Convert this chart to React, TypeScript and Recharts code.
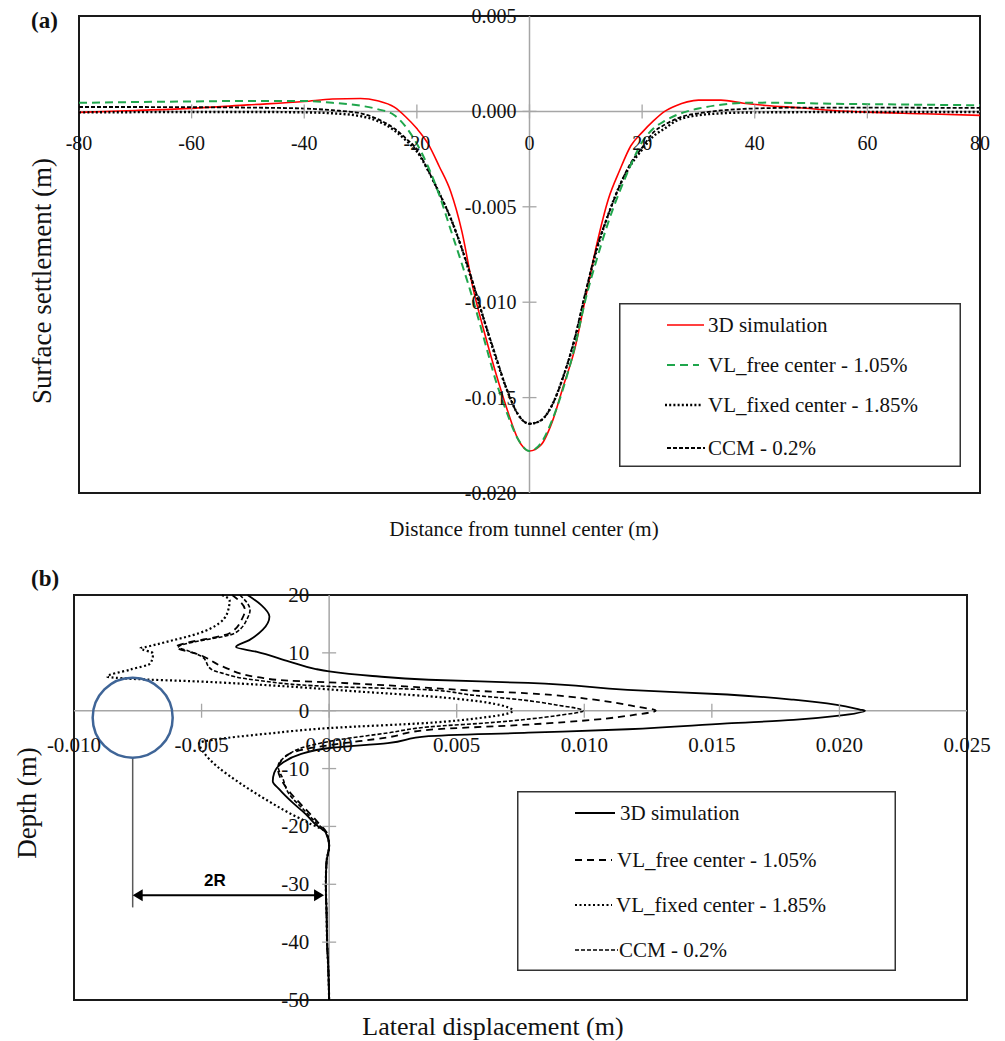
import React from 'react';
import {
  LineChart, Line, XAxis, YAxis, ReferenceLine, ReferenceArea, ReferenceDot,
  Legend, ScatterChart, Scatter,
} from 'recharts';

const SERIF = '"Liberation Serif", "Times New Roman", serif';
const SANS = '"Liberation Sans", Arial, sans-serif';

// ---------------- Panel (a): surface settlement ----------------
const distance = [-80, -70, -60, -50, -40, -35, -30, -27, -24, -22, -20, -18, -16, -14, -12, -10, -8, -6, -4, -2, 0, 2, 4, 6, 8, 10, 12, 14, 16, 18, 20, 22, 24, 26, 28, 30, 34, 38, 42, 48, 54, 60, 70, 80];
const settle3D = [-0.00005, 0.00005, 0.00016, 0.00034, 0.00052, 0.00065, 0.00068, 0.00056, 0.00022, -0.00028, -0.0009, -0.0017, -0.0029, -0.0042, -0.0063, -0.0093, -0.0116, -0.0137, -0.0156, -0.0172, -0.0178, -0.0175, -0.0163, -0.0144, -0.0125, -0.0097, -0.0069, -0.0046, -0.0031, -0.0018, -0.0011, -0.0005, 0.0, 0.0003, 0.0005, 0.00059, 0.00059, 0.00043, 0.00031, 0.00019, 0.00005, -0.00004, -0.00012, -0.00021];
const settleFree = [0.00045, 0.00049, 0.00052, 0.00055, 0.00055, 0.00045, 0.0003, 0.00012, -0.0002, -0.0008, -0.0017, -0.0029, -0.0044, -0.0062, -0.008, -0.0099, -0.012, -0.0141, -0.0158, -0.0172, -0.0178, -0.0174, -0.0162, -0.0145, -0.0124, -0.0098, -0.0077, -0.0058, -0.0042, -0.0028, -0.0016, -0.0009, -0.0005, -0.0002, 0.0, 0.00015, 0.00035, 0.00045, 0.00046, 0.00044, 0.0004, 0.00038, 0.00035, 0.00032];
const settleFixed = [-0.00005, -0.00004, -0.00003, -0.00003, -0.00005, -0.0001, -0.00025, -0.0005, -0.001, -0.0015, -0.0021, -0.0031, -0.0043, -0.0056, -0.0072, -0.0091, -0.011, -0.0129, -0.0146, -0.0159, -0.01637, -0.0162, -0.0154, -0.0139, -0.012, -0.0095, -0.0072, -0.0054, -0.0039, -0.0028, -0.002, -0.0013, -0.0009, -0.0005, -0.0003, -0.0002, -0.0001, -0.00006, -0.00005, -0.00004, -0.00003, -0.00003, -0.00003, -0.00003];
const settleCCM = [0.00023, 0.00023, 0.00022, 0.0002, 0.00015, 0.00006, -0.0001, -0.0004, -0.0009, -0.0014, -0.002, -0.0031, -0.0043, -0.0056, -0.0072, -0.009, -0.011, -0.0128, -0.0146, -0.0159, -0.01637, -0.0162, -0.0154, -0.0139, -0.0119, -0.0094, -0.0071, -0.0054, -0.0039, -0.0027, -0.0019, -0.0011, -0.0007, -0.0004, -0.0002, -0.0001, 0.00005, 0.00013, 0.00017, 0.0002, 0.0002, 0.0002, 0.00019, 0.00018];
const distanceTicks = [-80, -60, -40, -20, 0, 20, 40, 60, 80];
const settlementTicks = [-0.02, -0.015, -0.01, -0.005, 0, 0.005];

// ---------------- Panel (b): lateral displacement ----------------
const simDepth = [20, 18.3, 16.3, 14, 12.2, 11, 10.2, 8.5, 7.2, 6.8, 6, 5.35, 4.8, 3.6, 2.8, 1.9, 1, 0.2, 0, -0.9, -1.6, -2.2, -3.2, -3.8, -4.4, -5.6, -6.4, -7.6, -9, -10.7, -12.2, -13.6, -15.9, -17.9, -19.7, -21.1, -23.4, -26, -30, -35, -40, -45, -50];
const simDisp = [-0.0032, -0.00267, -0.00234, -0.0026, -0.00313, -0.00365, -0.00286, -0.00156, -0.00052, 0, 0.0017, 0.0039, 0.0078, 0.0117, 0.0156, 0.0182, 0.0199, 0.0208, 0.021, 0.0199, 0.0182, 0.0156, 0.0117, 0.0078, 0.0039, 0.0023, 0.0001, -0.00117, -0.00182, -0.00215, -0.00221, -0.00195, -0.00143, -0.00091, -0.00052, -0.00013, 0, -0.0001, -0.00013, -0.0001, -0.00008, -0.00003, 0];
const freeDepth = [20, 17.4, 16, 13.4, 11, 9.7, 7.5, 5.8, 5.2, 4.9, 4.2, 3.5, 3.0, 1.9, 0.74, 0, -0.69, -1.55, -2.4, -3.3, -4.6, -5.9, -6.7, -8.2, -10.2, -12.5, -14.8, -17.1, -19.0, -21.1, -23.4, -26, -30, -35, -40, -45, -50];
const freeDisp = [-0.0038, -0.0033, -0.0034, -0.0039, -0.006, -0.0051, -0.0041, -0.0028, -0.0016, 0, 0.003, 0.0055, 0.0078, 0.0104, 0.012, 0.0128, 0.012, 0.0104, 0.0078, 0.0039, 0.0023, 0.0001, -0.001, -0.0018, -0.002, -0.0018, -0.0014, -0.0009, -0.0005, -0.0001, 0, -0.0001, -0.00013, -0.0001, -0.00008, -0.00003, 0];
const fixedDepth = [20, 19.1, 16.8, 13.4, 12.2, 11.0, 10.8, 9.9, 8.2, 7.1, 5.9, 5.5, 5.05, 4.3, 3.3, 2.5, 1.6, 0.74, 0, -0.6, -1.26, -2.1, -3.0, -4.0, -5.0, -5.6, -7.3, -9.6, -12.5, -15.3, -17.6, -19.4, -21.1, -23.4, -26, -30, -35, -40, -45, -50];
const fixedDisp = [-0.0042, -0.0039, -0.004, -0.0051, -0.0061, -0.0072, -0.0074, -0.0069, -0.007, -0.0078, -0.0087, -0.0077, -0.0051, -0.002, 0.0012, 0.0039, 0.0059, 0.0069, 0.0072, 0.0069, 0.0059, 0.0039, 0, -0.0025, -0.0045, -0.0051, -0.0049, -0.0044, -0.0035, -0.0025, -0.0016, -0.0008, -0.0001, 0, -0.0001, -0.00013, -0.0001, -0.00008, -0.00003, 0];
const ccmDepth = [20, 17.4, 16, 13.4, 11, 10.3, 9.4, 7.1, 6.5, 5.3, 4.2, 3.6, 2.7, 1.9, 1.0, 0, -0.86, -2.0, -2.8, -3.84, -5.0, -6.2, -7.9, -9.6, -11.9, -14.2, -17.1, -19.4, -21.1, -23.4, -26, -30, -35, -40, -45, -50];
const ccmDisp = [-0.0035, -0.0031, -0.0032, -0.0037, -0.0059, -0.0055, -0.005, -0.0046, -0.0042, -0.0029, 0, 0.0039, 0.0056, 0.0075, 0.0089, 0.00996, 0.0089, 0.0065, 0.0039, 0.0023, 0.0004, -0.0009, -0.0017, -0.002, -0.0018, -0.0016, -0.001, -0.0005, -0.0001, 0, -0.0001, -0.00013, -0.0001, -0.00008, -0.00003, 0];
const dispTicks = [-0.01, -0.005, 0, 0.005, 0.01, 0.015, 0.02, 0.025];
const depthTicks = [-50, -40, -30, -20, -10, 0, 10, 20];

const seriesNames = ['3D simulation', 'VL_free center - 1.05%', 'VL_fixed center - 1.85%', 'CCM - 0.2%'];

// tunnel sketch annotation (data coordinates of panel b)
const tunnelDisp = -0.0077;
const tunnelDepth = -1.2;
const guideEnds = [-8.1, -34];
const arrowDepth = -31.9;
const arrowEndDisp = -0.0002;

// ---------------- layout ----------------
const W = 1005;
const AXIS_SIZE = 1;

const A_H = 560;
const A_PLOT = { left: 79, top: 16, right: 980, bottom: 493 };
const A_M = { top: A_PLOT.top, right: W - A_PLOT.right, bottom: A_H - A_PLOT.bottom - AXIS_SIZE, left: A_PLOT.left - AXIS_SIZE };
const A_XD: [number, number] = [-80, 80];
const A_YD: [number, number] = [-0.02, 0.005];
const aZeroY = A_PLOT.top + (A_PLOT.bottom - A_PLOT.top) * (A_YD[1] / (A_YD[1] - A_YD[0]));
const aZeroX = A_PLOT.left + (A_PLOT.right - A_PLOT.left) * ((0 - A_XD[0]) / (A_XD[1] - A_XD[0]));

const B_TOP = 560;
const B_H = 481;
const B_PLOT = { left: 74, top: 35, right: 967, bottom: 440 };
const B_M = { top: B_PLOT.top, right: W - B_PLOT.right, bottom: B_H - B_PLOT.bottom - AXIS_SIZE, left: B_PLOT.left - AXIS_SIZE };
const B_XD: [number, number] = [-0.01, 0.025];
const B_YD: [number, number] = [-50, 20];
const bZeroY = B_PLOT.top + (B_PLOT.bottom - B_PLOT.top) * (B_YD[1] / (B_YD[1] - B_YD[0]));
const bZeroX = B_PLOT.left + (B_PLOT.right - B_PLOT.left) * ((0 - B_XD[0]) / (B_XD[1] - B_XD[0]));

const GRAY = '#a6a6a6';

const aData = distance.map((x, i) => ({
  x, sim: settle3D[i], free: settleFree[i], fixed: settleFixed[i], ccm: settleCCM[i],
}));
const zip = (d: number[], v: number[]) => d.map((y, i) => ({ x: v[i], y }));
const simData = zip(simDepth, simDisp);
const freeData = zip(freeDepth, freeDisp);
const fixedData = zip(fixedDepth, fixedDisp);
const ccmData = zip(ccmDepth, ccmDisp);

function makeXTick(ticks: number[], zeroY: number, dy: number, fontSize: number, fmt: (v: number) => string) {
  return (props: any) => {
    const { x, payload } = props;
    const v = payload.value;
    const edge = v === ticks[0] || v === ticks[ticks.length - 1];
    return (
      <g>
        {!edge && <line x1={x} x2={x} y1={zeroY - 7} y2={zeroY + 7} stroke={GRAY} strokeWidth={1.3} />}
        <text x={x} y={zeroY + dy} textAnchor="middle" dominantBaseline="central" fontFamily={SERIF} fontSize={fontSize} fill="#111">{fmt(v)}</text>
      </g>
    );
  };
}
function makeYTick(ticks: number[], zeroX: number, dx: number, fontSize: number, fmt: (v: number) => string) {
  return (props: any) => {
    const { y, payload } = props;
    const v = payload.value;
    const edge = v === ticks[0] || v === ticks[ticks.length - 1];
    return (
      <g>
        {!edge && <line x1={zeroX - 7} x2={zeroX + 7} y1={y} y2={y} stroke={GRAY} strokeWidth={1.3} />}
        <text x={zeroX - dx} y={y} textAnchor="end" dominantBaseline="central" fontFamily={SERIF} fontSize={fontSize} fill="#111">{fmt(v)}</text>
      </g>
    );
  };
}

type Row = { label: string; stroke: string; width: number; dash?: string; x1: number; x2: number; tx: number; cy: number };
function LegendBox({ w, h, rows, fontSize }: { w: number; h: number; rows: Row[]; fontSize: number }) {
  return (
    <svg width={w} height={h} style={{ display: 'block' }}>
      <rect x={0.75} y={0.75} width={w - 1.5} height={h - 1.5} fill="#fff" stroke="#333" strokeWidth={1.5} />
      {rows.map((r) => (
        <g key={r.label}>
          <line x1={r.x1} x2={r.x2} y1={r.cy} y2={r.cy} stroke={r.stroke} strokeWidth={r.width} strokeDasharray={r.dash} />
          <text x={r.tx} y={r.cy} dominantBaseline="central" fontFamily={SERIF} fontSize={fontSize} fill="#111">{r.label}</text>
        </g>
      ))}
    </svg>
  );
}

const legendARows: Row[] = [
  { label: seriesNames[0], stroke: '#ff0000', width: 1.6, x1: 48, x2: 85, tx: 89, cy: 22 },
  { label: seriesNames[1], stroke: '#1fa64c', width: 2, dash: '8 5', x1: 48, x2: 80, tx: 89, cy: 62 },
  { label: seriesNames[2], stroke: '#000', width: 2.4, dash: '2 2.2', x1: 46, x2: 82, tx: 89, cy: 102 },
  { label: seriesNames[3], stroke: '#000', width: 1.8, dash: '4 2', x1: 48, x2: 86, tx: 89, cy: 145 },
];
const legendBRows: Row[] = [
  { label: seriesNames[0], stroke: '#000', width: 1.8, x1: 58, x2: 98, tx: 103, cy: 22 },
  { label: seriesNames[1], stroke: '#000', width: 1.8, dash: '7 5', x1: 58, x2: 95, tx: 100, cy: 69 },
  { label: seriesNames[2], stroke: '#000', width: 2.2, dash: '2 2.5', x1: 58, x2: 95, tx: 99, cy: 114 },
  { label: seriesNames[3], stroke: '#000', width: 1.6, dash: '4 2', x1: 58, x2: 101, tx: 102, cy: 159 },
];

const NoPoint = () => <g />;

const ArrowShape = (props: any) => {
  const { x1, y1, x2 } = props;
  const h = 10;
  const s = 6;
  return (
    <g>
      <line x1={x1 + 4} x2={x2 - 4} y1={y1} y2={y1} stroke="#000" strokeWidth={2} />
      <polygon points={`${x1},${y1} ${x1 + h},${y1 - s} ${x1 + h},${y1 + s}`} fill="#000" />
      <polygon points={`${x2},${y1} ${x2 - h},${y1 - s} ${x2 - h},${y1 + s}`} fill="#000" />
      <text x={x1 + (x2 - x1) * 0.43} y={y1 - 9} textAnchor="middle" fontFamily={SANS} fontWeight="bold" fontSize={17} fill="#000">2R</text>
    </g>
  );
};

function PanelA() {
  return (
    <LineChart width={W} height={A_H} data={aData} margin={A_M}>
      <XAxis type="number" dataKey="x" domain={A_XD} ticks={distanceTicks} interval={0} axisLine={false} tickLine={false} height={AXIS_SIZE}
        tick={makeXTick(distanceTicks, aZeroY, 32, 20, (v) => String(v))} />
      <YAxis type="number" domain={A_YD} ticks={settlementTicks} interval={0} axisLine={false} tickLine={false} width={AXIS_SIZE}
        tick={makeYTick(settlementTicks, aZeroX, 13, 20, (v) => v.toFixed(3))} />
      <ReferenceLine x={0} stroke={GRAY} strokeWidth={1.5} />
      <ReferenceLine y={0} stroke={GRAY} strokeWidth={1.5} />
      <ReferenceArea x1={A_XD[0]} x2={A_XD[1]} y1={A_YD[0]} y2={A_YD[1]} fill="none" fillOpacity={0} stroke="#1a1a1a" strokeWidth={2} ifOverflow="visible" />
      <Line type="monotone" dataKey="sim" name={seriesNames[0]} stroke="#ff0000" strokeWidth={1.6} dot={false} isAnimationActive={false} />
      <Line type="monotone" dataKey="fixed" name={seriesNames[2]} stroke="#000" strokeWidth={2.4} strokeDasharray="2 2.2" dot={false} isAnimationActive={false} />
      <Line type="monotone" dataKey="ccm" name={seriesNames[3]} stroke="#000" strokeWidth={1.8} strokeDasharray="4 2" dot={false} isAnimationActive={false} />
      <Line type="monotone" dataKey="free" name={seriesNames[1]} stroke="#1fa64c" strokeWidth={2} strokeDasharray="8 5" dot={false} isAnimationActive={false} />
      <Legend layout="horizontal" verticalAlign="middle" align="center"
        wrapperStyle={{ left: 619, top: 303, width: 342, height: 164 }}
        content={() => <LegendBox w={342} h={164} rows={legendARows} fontSize={21} />} />
    </LineChart>
  );
}

function PanelB() {
  return (
    <ScatterChart width={W} height={B_H} margin={B_M}>
      <XAxis type="number" dataKey="x" domain={B_XD} ticks={dispTicks} interval={0} axisLine={false} tickLine={false} height={AXIS_SIZE}
        tick={makeXTick(dispTicks, bZeroY, 34, 21, (v) => v.toFixed(3))} />
      <YAxis type="number" dataKey="y" domain={B_YD} ticks={depthTicks} interval={0} axisLine={false} tickLine={false} width={AXIS_SIZE}
        tick={makeYTick(depthTicks, bZeroX, 20, 21, (v) => String(v))} />
      <ReferenceLine x={0} stroke={GRAY} strokeWidth={1.5} />
      <ReferenceLine y={0} stroke={GRAY} strokeWidth={1.5} />
      <ReferenceArea x1={B_XD[0]} x2={B_XD[1]} y1={B_YD[0]} y2={B_YD[1]} fill="none" fillOpacity={0} stroke="#1a1a1a" strokeWidth={2} ifOverflow="visible" />
      <Scatter name={seriesNames[0]} data={simData} shape={NoPoint} lineJointType="monotoneY" isAnimationActive={false}
        line={{ stroke: '#000', strokeWidth: 1.8 }} />
      <Scatter name={seriesNames[1]} data={freeData} shape={NoPoint} lineJointType="monotoneY" isAnimationActive={false}
        line={{ stroke: '#000', strokeWidth: 1.8, strokeDasharray: '7 5' }} />
      <Scatter name={seriesNames[2]} data={fixedData} shape={NoPoint} lineJointType="monotoneY" isAnimationActive={false}
        line={{ stroke: '#000', strokeWidth: 2.2, strokeDasharray: '2 2.5' }} />
      <Scatter name={seriesNames[3]} data={ccmData} shape={NoPoint} lineJointType="monotoneY" isAnimationActive={false}
        line={{ stroke: '#000', strokeWidth: 1.6, strokeDasharray: '4 2' }} />
      <ReferenceDot x={tunnelDisp} y={tunnelDepth} r={40} fill="none" stroke="#3f6597" strokeWidth={2.5} />
      <ReferenceLine segment={[{ x: tunnelDisp, y: guideEnds[0] }, { x: tunnelDisp, y: guideEnds[1] }]} stroke="#595959" strokeWidth={1.5} />
      <ReferenceLine segment={[{ x: tunnelDisp, y: arrowDepth }, { x: arrowEndDisp, y: arrowDepth }]} shape={ArrowShape} />
      <Legend layout="horizontal" verticalAlign="middle" align="center"
        wrapperStyle={{ left: 517, top: 231, width: 379, height: 180 }}
        content={() => <LegendBox w={379} h={180} rows={legendBRows} fontSize={21} />} />
    </ScatterChart>
  );
}

export default function App() {
  return (
    <div style={{ position: 'absolute', left: 0, top: 0, width: W, height: 1041, background: '#fff' }}>
      <div style={{ position: 'absolute', left: 0, top: 0 }}>
        <PanelA />
      </div>
      <div style={{ position: 'absolute', left: 0, top: B_TOP }}>
        <PanelB />
      </div>
      <svg width={W} height={1041} style={{ position: 'absolute', left: 0, top: 0, pointerEvents: 'none' }}>
        <text x={31} y={28} fontFamily={SERIF} fontWeight="bold" fontSize={23} fill="#111">(a)</text>
        <text x={31} y={586} fontFamily={SERIF} fontWeight="bold" fontSize={23} fill="#111">(b)</text>
        <text transform="translate(42,281) rotate(-90)" textAnchor="middle" dominantBaseline="central" fontFamily={SERIF} fontSize={27} fill="#111">Surface settlement (m)</text>
        <text x={524} y={529} textAnchor="middle" dominantBaseline="central" fontFamily={SERIF} fontSize={21} fill="#111">Distance from tunnel center (m)</text>
        <text transform="translate(27,803) rotate(-90)" textAnchor="middle" dominantBaseline="central" fontFamily={SERIF} fontSize={27} fill="#111">Depth (m)</text>
        <text x={493} y={1026} textAnchor="middle" dominantBaseline="central" fontFamily={SERIF} fontSize={26} fill="#111">Lateral displacement (m)</text>
      </svg>
    </div>
  );
}
